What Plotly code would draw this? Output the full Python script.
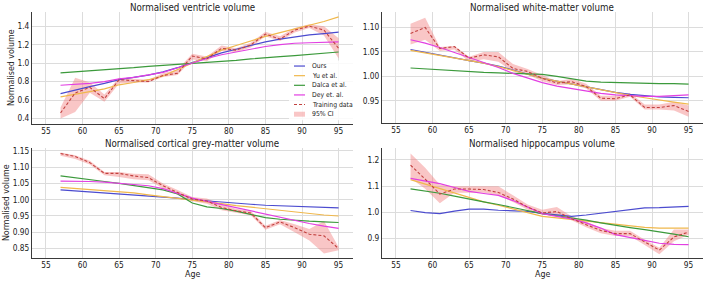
import plotly.graph_objects as go

W, H = 709, 281

ages = [57, 59, 61, 63, 65, 67, 69, 71, 73, 75, 77, 79, 81, 83, 85, 87, 89, 91, 93, 95]
x_ticks = [55, 60, 65, 70, 75, 80, 85, 90, 95]

series_names = ["Ours", "Yu et al.", "Dalca et al.", "Dey et. al."]
series_colors = ["#4b4bcf", "#f0b84c", "#3c9a3c", "#e23fe2"]
train_color = "#c2413f"
ci_fill = "rgba(240,120,120,0.42)"

# ---- Ventricle ----
vent_ours = [0.67, 0.71, 0.745, 0.78, 0.82, 0.845, 0.87, 0.905, 0.95, 1.005, 1.06, 1.11, 1.15, 1.19, 1.23, 1.26, 1.285, 1.305, 1.32, 1.335]
vent_yu = [0.635, 0.66, 0.69, 0.72, 0.765, 0.79, 0.82, 0.86, 0.93, 1.0, 1.07, 1.14, 1.19, 1.24, 1.29, 1.33, 1.37, 1.41, 1.45, 1.50]
vent_dalca = [0.895, 0.905, 0.915, 0.925, 0.94, 0.95, 0.965, 0.975, 0.985, 1.0, 1.01, 1.02, 1.03, 1.045, 1.06, 1.07, 1.08, 1.095, 1.105, 1.12]
vent_dey = [0.76, 0.77, 0.78, 0.80, 0.83, 0.845, 0.87, 0.90, 0.95, 1.0, 1.05, 1.09, 1.12, 1.15, 1.18, 1.20, 1.215, 1.22, 1.225, 1.23]
vent_train = [0.46, 0.676, 0.737, 0.615, 0.82, 0.81, 0.80, 0.866, 0.89, 1.077, 1.045, 1.16, 1.14, 1.196, 1.314, 1.26, 1.357, 1.40, 1.357, 1.16]
vent_lo = [0.40, 0.47, 0.68, 0.58, 0.78, 0.79, 0.79, 0.85, 0.87, 1.04, 1.02, 1.13, 1.12, 1.17, 1.29, 1.24, 1.33, 1.38, 1.30, 1.05]
vent_hi = [0.52, 0.84, 0.79, 0.66, 0.84, 0.83, 0.82, 0.89, 0.93, 1.10, 1.07, 1.19, 1.16, 1.22, 1.34, 1.29, 1.38, 1.42, 1.40, 1.27]

# ---- White matter ----
wm_ours = [1.055, 1.049, 1.044, 1.038, 1.032, 1.027, 1.021, 1.013, 1.004, 0.996, 0.99, 0.984, 0.978, 0.972, 0.967, 0.963, 0.96, 0.958, 0.957, 0.956]
wm_yu = [1.053, 1.048, 1.043, 1.038, 1.032, 1.027, 1.02, 1.012, 1.004, 0.996, 0.99, 0.984, 0.978, 0.972, 0.966, 0.961, 0.956, 0.951, 0.947, 0.943]
wm_dalca = [1.017, 1.015, 1.013, 1.011, 1.009, 1.008, 1.007, 1.006, 1.005, 1.004, 1.0, 0.995, 0.99, 0.988, 0.987, 0.986, 0.985, 0.985, 0.985, 0.984]
wm_dey = [1.075, 1.068, 1.059, 1.049, 1.039, 1.028, 1.018, 1.006, 0.996, 0.987, 0.98, 0.975, 0.97, 0.965, 0.962, 0.96, 0.959, 0.959, 0.96, 0.962]
wm_train = [1.088, 1.10, 1.057, 1.061, 1.037, 1.044, 1.040, 1.016, 1.01, 0.996, 0.986, 0.989, 0.979, 0.955, 0.954, 0.962, 0.936, 0.936, 0.94, 0.928]
wm_lo = [1.065, 1.075, 1.052, 1.055, 1.03, 1.035, 1.03, 1.01, 1.003, 0.99, 0.982, 0.983, 0.975, 0.95, 0.95, 0.958, 0.932, 0.932, 0.93, 0.917]
wm_hi = [1.108, 1.12, 1.06, 1.062, 1.04, 1.05, 1.05, 1.025, 1.015, 1.002, 0.99, 0.995, 0.985, 0.96, 0.96, 0.966, 0.942, 0.942, 0.948, 0.94]

# ---- Cortical grey matter ----
gm_ours = [1.03, 1.027, 1.024, 1.021, 1.018, 1.015, 1.012, 1.009, 1.005, 1.0, 0.996, 0.992, 0.989, 0.986, 0.983, 0.981, 0.979, 0.977, 0.976, 0.975]
gm_yu = [1.038, 1.035, 1.032, 1.029, 1.026, 1.021, 1.015, 1.01, 1.005, 1.0, 0.994, 0.988, 0.982, 0.977, 0.972, 0.967, 0.962, 0.957, 0.953, 0.95]
gm_dalca = [1.073, 1.068, 1.062, 1.056, 1.05, 1.044, 1.038, 1.03, 1.018, 0.99, 0.978, 0.973, 0.965, 0.955, 0.945, 0.94, 0.936, 0.934, 0.932, 0.93]
gm_dey = [1.057, 1.057, 1.056, 1.054, 1.05, 1.047, 1.043, 1.034, 1.02, 1.005, 0.995, 0.985, 0.975, 0.965, 0.955, 0.945, 0.936, 0.927, 0.919, 0.912]
gm_train = [1.142, 1.133, 1.114, 1.081, 1.081, 1.073, 1.068, 1.043, 1.022, 1.002, 0.996, 0.976, 0.966, 0.959, 0.914, 0.932, 0.914, 0.894, 0.889, 0.85]
gm_lo = [1.135, 1.125, 1.108, 1.075, 1.07, 1.063, 1.06, 1.035, 1.015, 0.995, 0.988, 0.968, 0.96, 0.952, 0.908, 0.925, 0.9, 0.875, 0.835, 0.845]
gm_hi = [1.145, 1.137, 1.12, 1.085, 1.085, 1.08, 1.078, 1.05, 1.03, 1.008, 1.004, 0.985, 0.972, 0.965, 0.92, 0.938, 0.925, 0.91, 0.935, 0.855]

# ---- Hippocampus ----
hc_ours = [1.007, 0.999, 0.995, 1.005, 1.012, 1.012, 1.008, 1.007, 1.004, 0.996, 0.99, 0.985, 0.99, 0.997, 1.005, 1.012, 1.017, 1.018, 1.02, 1.023]
hc_yu = [1.125, 1.108, 1.09, 1.072, 1.055, 1.04, 1.027, 1.013, 0.999, 0.985, 0.979, 0.973, 0.967, 0.961, 0.955, 0.949, 0.943, 0.94, 0.94, 0.94]
hc_dalca = [1.09, 1.082, 1.073, 1.062, 1.05, 1.04, 1.03, 1.019, 1.007, 0.995, 0.987, 0.979, 0.97, 0.96, 0.95, 0.942, 0.934, 0.926, 0.917, 0.907]
hc_dey = [1.13, 1.12, 1.11, 1.095, 1.08, 1.072, 1.065, 1.045, 1.02, 0.995, 0.985, 0.975, 0.96, 0.94, 0.915, 0.905, 0.893, 0.882, 0.878, 0.877]
hc_train = [1.18, 1.127, 1.07, 1.089, 1.089, 1.087, 1.076, 1.051, 1.02, 0.998, 1.003, 0.976, 0.953, 0.931, 0.919, 0.919, 0.887, 0.856, 0.906, 0.925]
hc_lo = [1.13, 1.09, 1.035, 1.075, 1.075, 1.075, 1.065, 1.04, 1.01, 0.99, 0.99, 0.97, 0.943, 0.92, 0.91, 0.91, 0.875, 0.84, 0.89, 0.915]
hc_hi = [1.225, 1.17, 1.105, 1.10, 1.10, 1.10, 1.10, 1.065, 1.03, 1.01, 1.02, 0.985, 0.965, 0.94, 0.93, 0.93, 0.895, 0.865, 0.935, 0.935]

panels = [
    dict(title="Normalised ventricle volume", models=[vent_ours, vent_yu, vent_dalca, vent_dey],
         train=vent_train, lo=vent_lo, hi=vent_hi, yrange=[0.339, 1.554], dtick=0.2, fmt=".1f"),
    dict(title="Normalised white-matter volume", models=[wm_ours, wm_yu, wm_dalca, wm_dey],
         train=wm_train, lo=wm_lo, hi=wm_hi, yrange=[0.904, 1.132], dtick=0.05, fmt=".2f"),
    dict(title="Normalised cortical grey-matter volume", models=[gm_ours, gm_yu, gm_dalca, gm_dey],
         train=gm_train, lo=gm_lo, hi=gm_hi, yrange=[0.8195, 1.160], dtick=0.05, fmt=".2f"),
    dict(title="Normalised hippocampus volume", models=[hc_ours, hc_yu, hc_dalca, hc_dey],
         train=hc_train, lo=hc_lo, hi=hc_hi, yrange=[0.824, 1.247], dtick=0.1, fmt=".1f"),
]

# plot-area pixel boxes (left, right, top, bottom)
boxes = [(32, 352.5, 10, 123), (382, 702.5, 10, 122), (32, 352.5, 146.7, 258.3), (382, 702.5, 146.7, 258.3)]

FONT = "DejaVu Sans Condensed, DejaVu Sans"
TXT = "#222222"
TICK_SIZE = 8.3
TITLE_SIZE = 9.7
AXT_SIZE = 8.8
LEG_SIZE = 6.8

fig = go.Figure()
layout = dict(
    width=W, height=H, margin=dict(l=0, r=0, t=0, b=0),
    paper_bgcolor="white", plot_bgcolor="white", showlegend=False,
    font=dict(family=FONT, size=TICK_SIZE, color=TXT),
    annotations=[], shapes=[],
)

for i, (p, (l, r, t, b)) in enumerate(zip(panels, boxes)):
    n = "" if i == 0 else str(i + 1)
    xa, ya = "x" + n, "y" + n
    # CI band
    fig.add_trace(go.Scatter(x=ages, y=p["lo"], mode="lines", line=dict(width=0, color=ci_fill),
                             xaxis=xa, yaxis=ya, hoverinfo="skip"))
    fig.add_trace(go.Scatter(x=ages, y=p["hi"], mode="lines", line=dict(width=0, color=ci_fill),
                             fill="tonexty", fillcolor=ci_fill, xaxis=xa, yaxis=ya, name="95% CI"))
    for vals, name, col in zip(p["models"], series_names, series_colors):
        fig.add_trace(go.Scatter(x=ages, y=vals, mode="lines", name=name,
                                 line=dict(color=col, width=1.2), xaxis=xa, yaxis=ya))
    fig.add_trace(go.Scatter(x=ages, y=p["train"], mode="lines", name="Training data",
                             line=dict(color=train_color, width=1.1, dash="3px,2px"), xaxis=xa, yaxis=ya))

    common = dict(showgrid=True, gridcolor="#dcdcdc", gridwidth=1, zeroline=False,
                  showline=True, linecolor="#3a3a3a", linewidth=1, ticks="",
                  tickfont=dict(family=FONT, size=TICK_SIZE, color=TXT))
    layout["xaxis" + n] = dict(common, domain=[l / W, r / W], anchor=ya, range=[53.1, 96.9],
                               tickvals=x_ticks, ticklabelstandoff=-1)
    layout["yaxis" + n] = dict(common, domain=[1 - b / H, 1 - t / H], anchor=xa, range=p["yrange"],
                               dtick=p["dtick"], tick0=0, tickformat=p["fmt"])
    # subplot title
    layout["annotations"].append(dict(text=p["title"], x=(l + r) / 2 / W, y=1 - (t - 4.5) / H,
                                      xref="paper", yref="paper", showarrow=False,
                                      font=dict(size=TITLE_SIZE, color=TXT), xanchor="center", yanchor="middle"))

# axis titles as annotations
for (l, r, t, b), xpos in [(boxes[0], 11), (boxes[2], 6)]:
    layout["annotations"].append(dict(text="Normalised volume", x=xpos / W, y=1 - (t + b) / 2 / H,
                                      xref="paper", yref="paper", showarrow=False, textangle=-90,
                                      xanchor="center", yanchor="middle",
                                      font=dict(size=AXT_SIZE, color=TXT)))
for (l, r, t, b) in [boxes[2], boxes[3]]:
    layout["annotations"].append(dict(text="Age", x=(l + r) / 2 / W, y=1 - 273.5 / H,
                                      xref="paper", yref="paper", showarrow=False,
                                      xanchor="center", yanchor="middle",
                                      font=dict(size=AXT_SIZE, color=TXT)))

# legend (in the first panel)
legend_names = series_names + ["Training data", "95% CI"]
legend_y = [64.5, 74.2, 83.9, 93.6, 103.3, 113.0]
layout["shapes"].append(dict(type="rect", xref="paper", yref="paper", x0=289 / W, x1=353 / W,
                             y0=1 - 119 / H, y1=1 - 59 / H, fillcolor="rgba(255,255,255,0.85)",
                             line=dict(width=0), layer="above"))
for k, (name, yy) in enumerate(zip(legend_names, legend_y)):
    if k < 4:
        layout["shapes"].append(dict(type="line", xref="paper", yref="paper", x0=294 / W, x1=305 / W,
                                     y0=1 - yy / H, y1=1 - yy / H, line=dict(color=series_colors[k], width=1.2),
                                     layer="above"))
    elif k == 4:
        layout["shapes"].append(dict(type="line", xref="paper", yref="paper", x0=294 / W, x1=305 / W,
                                     y0=1 - yy / H, y1=1 - yy / H,
                                     line=dict(color=train_color, width=1.1, dash="3px,2px"), layer="above"))
    else:
        layout["shapes"].append(dict(type="rect", xref="paper", yref="paper", x0=294 / W, x1=305 / W,
                                     y0=1 - (yy + 2.5) / H, y1=1 - (yy - 2.5) / H, fillcolor=ci_fill,
                                     line=dict(width=0), layer="above"))
    layout["annotations"].append(dict(text=name, x=310 / W, y=1 - yy / H, xref="paper", yref="paper",
                                      showarrow=False, xanchor="left", yanchor="middle",
                                      font=dict(size=LEG_SIZE, color=TXT)))

fig.update_layout(**layout)
fig.write_html("out.html")
